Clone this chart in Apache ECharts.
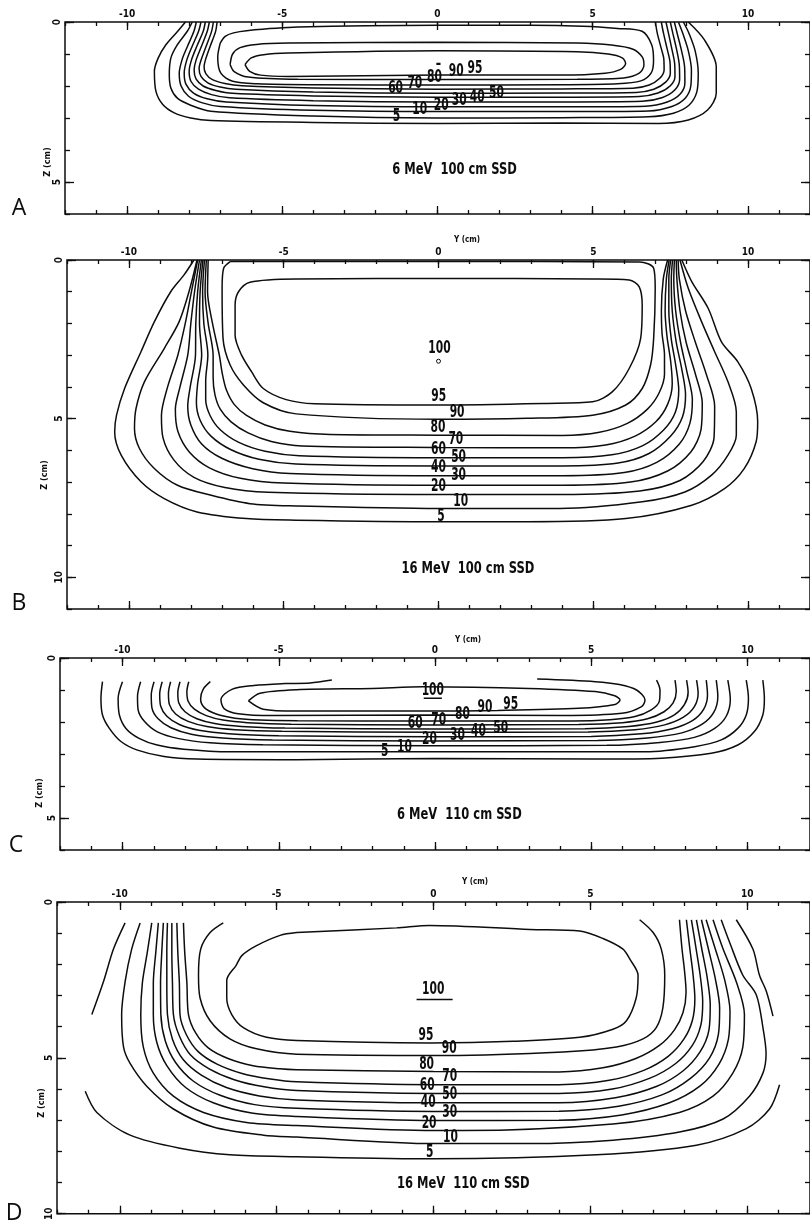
<!DOCTYPE html>
<html><head><meta charset="utf-8">
<script src="https://cdn.jsdelivr.net/npm/echarts@6/dist/echarts.min.js"></script>
<style>html,body{margin:0;padding:0;background:#fff}#c{width:810px;height:1223px}</style>
</head><body><div id="c"></div>
<script>
// ================= DATA =================
const Y_TICKS = [-10, -5, 0, 5, 10];
const Z_TICKS_A = [0, 5];
const Z_TICKS_B = [0, 5, 10];
const Z_TICKS_C = [0, 5];
const Z_TICKS_D = [0, 5, 10];

// ---- Panel A: 6 MeV 100 cm SSD (isodose contours, [Y cm, Z cm]) ----
const A_5 = [[-8.12,0],[-8.37,0.29],[-8.75,0.71],[-9.0,1.13],[-9.12,1.54],[-9.07,2.17],[-8.85,2.58],[-8.48,2.84],[-7.95,3.0],[-7.3,3.08],[-4,3.14],[0,3.17],[4,3.16],[7.12,3.17],[8.08,3.06],[8.7,2.75],[8.98,2.23],[8.98,1.4],[8.6,0.56],[8.08,0]];
const A_10 = [[-7.9,0],[-8.06,0.29],[-8.38,0.71],[-8.59,1.13],[-8.64,1.65],[-8.59,2.06],[-8.38,2.38],[-7.95,2.6],[-7.3,2.79],[-4,2.94],[0,3.0],[4,2.99],[6.8,2.96],[7.6,2.85],[8.1,2.6],[8.35,2.2],[8.4,1.6],[8.3,0.9],[8.1,0.35],[7.92,0]];
const A_20 = [[-7.77,0],[-7.85,0.3],[-8.05,0.75],[-8.22,1.15],[-8.32,1.6],[-8.26,2.0],[-8.02,2.32],[-7.6,2.52],[-7.0,2.64],[-4,2.76],[0,2.8],[4,2.8],[6.8,2.78],[7.55,2.64],[7.98,2.38],[8.16,2.0],[8.18,1.5],[8.08,0.9],[7.9,0.35],[7.76,0]];
const A_30 = [[-7.62,0],[-7.7,0.3],[-7.9,0.75],[-8.08,1.2],[-8.16,1.6],[-8.1,1.95],[-7.86,2.22],[-7.42,2.4],[-6.8,2.5],[-4,2.61],[0,2.65],[4,2.65],[6.7,2.63],[7.4,2.5],[7.82,2.25],[7.97,1.9],[7.96,1.4],[7.85,0.85],[7.72,0.35],[7.63,0]];
const A_40 = [[-7.48,0],[-7.55,0.3],[-7.75,0.75],[-7.93,1.2],[-8.0,1.55],[-7.94,1.86],[-7.7,2.1],[-7.28,2.27],[-6.7,2.37],[-4,2.46],[0,2.5],[4,2.5],[6.6,2.48],[7.25,2.36],[7.65,2.12],[7.8,1.8],[7.79,1.35],[7.7,0.85],[7.58,0.35],[7.5,0]];
const A_50 = [[-7.35,0],[-7.42,0.3],[-7.6,0.75],[-7.78,1.2],[-7.84,1.5],[-7.78,1.78],[-7.55,2.0],[-7.14,2.14],[-6.6,2.23],[-4,2.31],[0,2.35],[4,2.35],[6.5,2.33],[7.1,2.22],[7.5,1.99],[7.65,1.7],[7.64,1.3],[7.55,0.85],[7.44,0.35],[7.36,0]];
const A_60 = [[-7.22,0],[-7.28,0.3],[-7.45,0.75],[-7.62,1.2],[-7.68,1.45],[-7.62,1.7],[-7.4,1.9],[-7.0,2.03],[-6.5,2.1],[-4,2.19],[0,2.23],[4,2.22],[6.4,2.2],[6.97,2.1],[7.35,1.88],[7.5,1.6],[7.49,1.25],[7.4,0.85],[7.28,0.35],[7.21,0]];
const A_70 = [[-7.1,0],[-7.15,0.3],[-7.32,0.75],[-7.48,1.2],[-7.52,1.4],[-7.46,1.62],[-7.25,1.8],[-6.85,1.92],[-6.3,1.99],[-4,2.06],[0,2.1],[4,2.09],[6.3,2.07],[6.82,1.97],[7.16,1.76],[7.3,1.5],[7.29,1.15],[7.2,0.8],[7.08,0.35],[7.02,0]];
const A_80 = [[-7.0,0.66],[-6.84,0.45],[-6.57,0.34],[-6.15,0.27],[-4.5,0.16],[0,0.1],[3,0.1],[4.68,0.13],[5.8,0.2],[6.59,0.29],[6.9,0.71],[6.96,1.2],[6.88,1.6],[6.55,1.84],[5.8,1.93],[4,1.96],[0,1.97],[-4,1.96],[-5.8,1.93],[-6.6,1.85],[-6.98,1.6],[-7.08,1.1],[-7.0,0.66]];
const A_90 = [[-6.68,1.33],[-6.6,1.0],[-6.36,0.8],[-5.83,0.7],[-4.8,0.66],[0,0.63],[4.5,0.66],[5.6,0.72],[6.3,0.85],[6.6,1.1],[6.65,1.35],[6.5,1.6],[6.0,1.75],[4.5,1.79],[0,1.8],[-4.5,1.79],[-6.1,1.72],[-6.55,1.55],[-6.68,1.33]];
const A_95 = [[-6.2,1.33],[-6.0,1.12],[-5.6,1.02],[-4.8,0.97],[0,0.9],[4.5,0.93],[5.5,1.0],[5.95,1.12],[6.06,1.3],[5.9,1.48],[5.4,1.6],[4.0,1.66],[0,1.66],[-4.8,1.7],[-5.7,1.66],[-6.05,1.54],[-6.2,1.33]];
const A_LABELS = [[-1.35,2.07,'60'],[-0.73,1.92,'70'],[-0.1,1.75,'80'],[0.6,1.56,'90'],[1.21,1.47,'95'],[0.03,1.34,'–'],[-1.32,2.94,'5'],[-0.57,2.75,'10'],[0.12,2.6,'20'],[0.7,2.44,'30'],[1.28,2.35,'40'],[1.9,2.23,'50']];
const A_TITLE = [[0.55,4.63,'6 MeV  100 cm SSD']];

// ---- Panel B: 16 MeV 100 cm SSD ----
const B_5 = [[-7.9,0],[-8.22,0.47],[-8.65,1.0],[-9.18,1.95],[-9.61,2.89],[-10.14,4.05],[-10.4,4.89],[-10.46,5.42],[-10.25,6.15],[-9.61,6.99],[-8.86,7.52],[-7.8,7.94],[-6.2,8.15],[-4.6,8.2],[0,8.25],[2.85,8.25],[6.05,8.15],[8.18,7.73],[9.25,7.2],[9.88,6.57],[10.26,5.73],[10.31,5.1],[10.1,4.05],[9.67,3.21],[9.14,2.58],[8.71,1.52],[8.18,0.68],[7.86,0]];
const B_10 = [[-7.8,0],[-8.06,1.0],[-8.38,1.95],[-8.86,2.79],[-9.5,3.84],[-9.77,4.68],[-9.82,5.31],[-9.66,5.94],[-9.18,6.57],[-8.43,7.1],[-7.37,7.41],[-6.09,7.68],[-4.6,7.75],[0,7.83],[3.92,7.83],[6.58,7.62],[7.96,7.31],[8.82,6.78],[9.35,6.15],[9.62,5.52],[9.62,4.79],[9.35,3.84],[8.92,2.89],[8.5,1.95],[8.07,0.9],[7.8,0]];
const B_20 = [[-7.78,0],[-7.98,1.0],[-8.18,2.0],[-8.42,3.0],[-8.75,4.0],[-8.95,4.9],[-8.9,5.6],[-8.55,6.3],[-7.9,6.85],[-6.9,7.17],[-5.5,7.32],[0,7.39],[4,7.39],[6.5,7.28],[7.8,6.95],[8.55,6.35],[8.9,5.6],[8.92,4.6],[8.65,3.6],[8.3,2.6],[7.98,1.6],[7.78,0.6],[7.74,0]];
const B_30 = [[-7.72,0],[-7.88,1.0],[-8.0,2.0],[-8.1,3.0],[-8.35,4.0],[-8.5,4.7],[-8.42,5.4],[-8.05,6.05],[-7.4,6.55],[-6.4,6.88],[-5.0,7.03],[0,7.1],[4,7.1],[6.2,7.0],[7.4,6.65],[8.15,6.05],[8.48,5.35],[8.52,4.5],[8.3,3.6],[8.0,2.6],[7.8,1.6],[7.7,0.6],[7.68,0]];
const B_40 = [[-7.66,0],[-7.78,1.0],[-7.84,2.0],[-7.85,3.0],[-8.02,4.0],[-8.1,4.6],[-8.0,5.2],[-7.65,5.8],[-7.0,6.25],[-6.0,6.58],[-4.8,6.73],[0,6.8],[4,6.8],[6.0,6.7],[7.05,6.38],[7.78,5.8],[8.12,5.15],[8.2,4.4],[8.02,3.5],[7.82,2.6],[7.66,1.6],[7.6,0.6],[7.62,0]];
const B_50 = [[-7.61,0],[-7.7,1.0],[-7.72,2.0],[-7.65,3.0],[-7.78,3.9],[-7.82,4.5],[-7.7,5.05],[-7.35,5.55],[-6.7,5.98],[-5.8,6.28],[-4.6,6.43],[0,6.49],[4,6.49],[5.8,6.4],[6.8,6.1],[7.5,5.55],[7.88,4.95],[7.98,4.25],[7.85,3.4],[7.68,2.6],[7.55,1.6],[7.52,0.6],[7.56,0]];
const B_60 = [[-7.56,0],[-7.62,1.0],[-7.58,2.0],[-7.45,3.0],[-7.52,3.8],[-7.52,4.4],[-7.38,4.9],[-7.05,5.35],[-6.45,5.75],[-5.6,6.03],[-4.5,6.17],[0,6.23],[4,6.23],[5.6,6.14],[6.6,5.85],[7.28,5.35],[7.65,4.8],[7.76,4.1],[7.66,3.3],[7.52,2.5],[7.44,1.6],[7.44,0.6],[7.5,0]];
const B_70 = [[-7.5,0],[-7.54,1.0],[-7.44,2.0],[-7.28,3.0],[-7.28,3.7],[-7.22,4.25],[-7.05,4.7],[-6.7,5.1],[-6.15,5.45],[-5.4,5.72],[-4.4,5.86],[0,5.91],[4,5.92],[5.4,5.83],[6.35,5.55],[7.02,5.1],[7.4,4.55],[7.55,3.9],[7.5,3.2],[7.38,2.4],[7.32,1.6],[7.36,0.6],[7.45,0]];
const B_80 = [[-7.44,0],[-7.46,1.0],[-7.3,2.0],[-7.08,3.0],[-6.98,3.6],[-6.85,4.1],[-6.6,4.55],[-6.2,4.9],[-5.6,5.2],[-4.8,5.4],[-3.5,5.5],[0,5.52],[4,5.53],[5.2,5.43],[6.1,5.15],[6.75,4.7],[7.12,4.2],[7.3,3.6],[7.3,3.0],[7.22,2.3],[7.2,1.6],[7.26,0.6],[7.4,0]];
const B_90 = [[-6.73,0.05],[-6.94,0.26],[-6.99,0.89],[-6.96,2.47],[-6.73,3.31],[-6.3,3.94],[-5.66,4.5],[-4.6,4.85],[0,5.02],[2.85,4.99],[4.98,4.89],[6.05,4.57],[6.58,4.05],[6.85,3.31],[6.95,2.47],[7.0,0.9],[6.95,0.26],[6.5,0.06],[0,0.05],[-6.73,0.05]];
const B_95 = [[-4.6,0.6],[-6.09,0.7],[-6.46,1.0],[-6.57,1.42],[-6.57,2.37],[-6.36,3.0],[-6.04,3.52],[-5.66,4.05],[-4.92,4.4],[-4.0,4.53],[0,4.57],[3.5,4.52],[4.98,4.47],[5.62,4.15],[6.16,3.42],[6.53,2.47],[6.58,1.42],[6.48,0.84],[6.16,0.63],[4.98,0.6],[0,0.58],[-4.6,0.6]];
const B_LABELS = [[0.03,2.79,'100'],[0.01,4.31,'95'],[0.6,4.8,'90'],[-0.02,5.29,'80'],[0.56,5.65,'70'],[0,5.99,'60'],[0.65,6.24,'50'],[0,6.55,'40'],[0.65,6.78,'30'],[0,7.15,'20'],[0.72,7.62,'10'],[0.08,8.1,'5']];
const B_PEAK = [[0.0,3.19]];
const B_TITLE = [[0.95,9.73,'16 MeV  100 cm SSD']];

// ---- Panel C: 6 MeV 110 cm SSD ----
const C_5 = [[-10.64,0.74],[-10.69,1.26],[-10.64,1.78],[-10.42,2.2],[-10.05,2.61],[-9.52,2.88],[-8.67,3.08],[-7.61,3.16],[-4.43,3.18],[0,3.14],[5.13,3.16],[7.25,3.13],[8.84,2.98],[9.69,2.72],[10.22,2.3],[10.49,1.78],[10.54,1.26],[10.49,0.69]];
const C_10 = [[-10.0,0.74],[-10.14,1.26],[-10.1,1.78],[-9.89,2.2],[-9.47,2.51],[-8.89,2.72],[-8.04,2.85],[-6.55,2.93],[0,2.93],[6.72,2.93],[8.31,2.77],[9.16,2.56],[9.69,2.2],[9.96,1.78],[10.03,1.26],[9.96,0.69]];
const C_20 = [[-9.42,0.74],[-9.52,1.2],[-9.5,1.62],[-9.3,1.98],[-8.9,2.3],[-8.2,2.52],[-7.2,2.65],[-5.5,2.71],[0,2.74],[5.5,2.73],[7.2,2.64],[8.3,2.48],[8.95,2.2],[9.32,1.82],[9.45,1.3],[9.37,0.69]];
const C_30 = [[-8.99,0.74],[-9.08,1.15],[-9.06,1.55],[-8.86,1.9],[-8.45,2.18],[-7.8,2.38],[-6.8,2.5],[-5.2,2.56],[0,2.59],[5.2,2.58],[6.8,2.5],[7.9,2.34],[8.55,2.07],[8.92,1.7],[9.05,1.2],[9.0,0.69]];
const C_40 = [[-8.73,0.74],[-8.81,1.12],[-8.78,1.5],[-8.58,1.82],[-8.18,2.08],[-7.55,2.26],[-6.6,2.37],[-5.0,2.43],[0,2.46],[5.0,2.45],[6.6,2.37],[7.6,2.21],[8.25,1.95],[8.6,1.6],[8.72,1.15],[8.68,0.69]];
const C_50 = [[-8.46,0.74],[-8.53,1.1],[-8.5,1.45],[-8.3,1.75],[-7.9,1.98],[-7.3,2.14],[-6.4,2.24],[-4.9,2.29],[0,2.32],[4.9,2.31],[6.4,2.24],[7.35,2.09],[7.95,1.85],[8.3,1.52],[8.42,1.1],[8.37,0.69]];
const C_60 = [[-8.16,0.74],[-8.23,1.08],[-8.2,1.4],[-8.0,1.68],[-7.62,1.9],[-7.05,2.05],[-6.2,2.14],[-4.8,2.19],[0,2.22],[4.8,2.21],[6.2,2.14],[7.1,2.0],[7.66,1.78],[7.98,1.46],[8.1,1.08],[8.05,0.69]];
const C_70 = [[-7.88,0.74],[-7.94,1.05],[-7.9,1.35],[-7.7,1.6],[-7.32,1.8],[-6.78,1.94],[-6.0,2.02],[-4.6,2.07],[0,2.09],[4.6,2.08],[6.0,2.02],[6.8,1.9],[7.33,1.68],[7.62,1.4],[7.72,1.05],[7.68,0.69]];
const C_80 = [[-7.19,0.74],[-7.42,0.98],[-7.5,1.28],[-7.38,1.55],[-7.0,1.75],[-6.4,1.88],[-5.6,1.94],[-4.4,1.96],[0,1.97],[4.4,1.97],[5.6,1.93],[6.4,1.83],[6.92,1.62],[7.18,1.35],[7.2,1.0],[7.09,0.69]];
const C_90 = [[-3.3,0.69],[-4.0,0.78],[-4.8,0.8],[-5.8,0.86],[-6.5,0.98],[-6.85,1.3],[-6.75,1.58],[-6.3,1.74],[-5.2,1.8],[0,1.78],[4.07,1.8],[5.98,1.73],[6.61,1.52],[6.72,1.31],[6.45,1.0],[5.9,0.83],[5.13,0.74],[3.27,0.66]];
const C_95 = [[-5.97,1.34],[-5.6,1.1],[-4.43,0.99],[-2,0.95],[-0.39,0.9],[3.0,0.95],[5.13,1.05],[5.75,1.18],[5.92,1.31],[5.76,1.45],[4.6,1.57],[2,1.64],[-0.18,1.66],[-4.43,1.66],[-5.5,1.6],[-5.97,1.34]];
const C_LABELS = [[-0.07,1.03,'100'],[2.42,1.45,'95'],[1.6,1.55,'90'],[0.88,1.76,'80'],[0.12,1.97,'70'],[-0.63,2.04,'60'],[2.1,2.2,'50'],[1.39,2.3,'40'],[0.72,2.41,'30'],[-0.18,2.56,'20'],[-0.98,2.8,'10'],[-1.61,2.93,'5']];
const C_UNDERLINE = [[-0.36,1.26],[0.22,1.26]];
const C_TITLE = [[0.78,4.9,'6 MeV  110 cm SSD']];

// ---- Panel D: 16 MeV 110 cm SSD ----
const D_5_LEFT = [[-9.83,0.67],[-10.2,1.51],[-10.52,2.56],[-10.89,3.61]];
const D_5_LOW = [[-11.1,6.07],[-10.73,6.75],[-9.67,7.48],[-8.08,7.9],[-6.49,8.11],[-4.36,8.17],[0,8.24],[5.19,8.11],[8.38,7.8],[9.97,7.27],[10.71,6.64],[11.03,5.86]];
const D_5_RIGHT = [[9.65,0.57],[10.18,1.51],[10.39,2.35],[10.61,2.87],[10.82,3.66]];
const D_10 = [[-9.35,0.67],[-9.62,1.51],[-9.83,2.56],[-9.94,3.61],[-9.88,4.65],[-9.67,5.18],[-9.14,5.91],[-8.29,6.64],[-7.02,7.22],[-5.42,7.48],[-4.36,7.54],[0,7.75],[3.07,7.75],[5.72,7.64],[7.84,7.38],[9.23,6.96],[10.07,6.23],[10.5,5.49],[10.6,4.86],[10.5,4.03],[10.29,2.98],[9.86,2.35],[9.44,1.3],[9.17,0.57]];
const D_20 = [[-8.98,0.67],[-9.12,1.6],[-9.28,2.6],[-9.33,3.61],[-9.25,4.65],[-8.93,5.49],[-8.29,6.23],[-7.33,6.75],[-5.96,7.07],[-4.36,7.17],[0,7.33],[0.95,7.33],[5.72,7.12],[7.84,6.75],[8.91,6.23],[9.54,5.49],[9.86,4.65],[9.91,3.61],[9.65,2.56],[9.23,1.51],[8.91,0.57]];
const D_30 = [[-8.77,0.67],[-8.85,1.6],[-8.93,2.6],[-8.93,3.61],[-8.82,4.5],[-8.5,5.25],[-7.9,5.95],[-7.0,6.45],[-5.8,6.77],[-4.36,6.88],[0,7.01],[4,7.0],[6.0,6.83],[7.5,6.45],[8.5,5.9],[9.1,5.2],[9.4,4.4],[9.45,3.5],[9.28,2.5],[8.98,1.5],[8.69,0.57]];
const D_40 = [[-8.61,0.67],[-8.66,1.6],[-8.7,2.6],[-8.69,3.61],[-8.55,4.45],[-8.22,5.15],[-7.65,5.75],[-6.8,6.2],[-5.7,6.5],[-4.36,6.62],[0,6.72],[4,6.71],[5.9,6.55],[7.3,6.18],[8.2,5.65],[8.8,5.0],[9.08,4.25],[9.12,3.4],[8.98,2.45],[8.76,1.5],[8.54,0.57]];
const D_50 = [[-8.48,0.67],[-8.5,1.6],[-8.5,2.6],[-8.48,3.61],[-8.32,4.4],[-7.98,5.05],[-7.4,5.55],[-6.6,5.95],[-5.55,6.22],[-4.36,6.35],[0,6.44],[4,6.44],[5.8,6.28],[7.1,5.92],[7.95,5.42],[8.5,4.8],[8.78,4.1],[8.82,3.3],[8.72,2.4],[8.55,1.5],[8.38,0.57]];
const D_60 = [[-8.34,0.67],[-8.34,1.6],[-8.32,2.6],[-8.29,3.61],[-8.1,4.3],[-7.75,4.9],[-7.15,5.35],[-6.35,5.7],[-5.4,5.93],[-4.36,6.05],[0,6.14],[4,6.14],[5.7,6.0],[6.9,5.65],[7.72,5.18],[8.25,4.6],[8.52,3.95],[8.58,3.2],[8.5,2.35],[8.37,1.5],[8.22,0.57]];
const D_70 = [[-8.18,0.67],[-8.15,1.6],[-8.1,2.6],[-8.08,3.61],[-7.88,4.25],[-7.5,4.8],[-6.9,5.2],[-6.1,5.5],[-5.2,5.68],[-4.36,5.77],[0,5.86],[4,5.86],[5.6,5.72],[6.7,5.4],[7.48,4.95],[7.98,4.4],[8.25,3.8],[8.33,3.1],[8.27,2.3],[8.17,1.5],[8.06,0.57]];
const D_80 = [[-7.97,0.67],[-7.93,1.6],[-7.86,2.6],[-7.81,3.61],[-7.58,4.2],[-7.18,4.68],[-6.55,5.02],[-5.75,5.25],[-4.9,5.35],[-4.36,5.38],[0,5.44],[4,5.45],[5.4,5.32],[6.45,5.02],[7.2,4.6],[7.68,4.1],[7.95,3.55],[8.05,2.9],[8.0,2.2],[7.92,1.5],[7.84,0.57]];
const D_90 = [[-6.7,0.67],[-7.12,0.98],[-7.42,1.51],[-7.49,2.35],[-7.44,3.08],[-7.12,3.81],[-6.49,4.39],[-5.64,4.71],[-4.36,4.88],[0.41,4.92],[4.13,4.81],[5.83,4.65],[6.68,4.39],[7.1,4.03],[7.31,3.4],[7.37,2.35],[7.26,1.51],[7.0,0.98],[6.57,0.57]];
const D_95 = [[-4.36,0.98],[-4.89,1.07],[-5.64,1.4],[-6.11,1.72],[-6.29,2.03],[-6.59,2.51],[-6.59,3.08],[-6.43,3.61],[-6.06,4.03],[-5.32,4.34],[-4.36,4.44],[-0.12,4.52],[2.54,4.47],[4.66,4.34],[5.72,4.08],[6.15,3.81],[6.46,3.08],[6.52,2.35],[6.25,1.82],[6.04,1.51],[5.4,1.17],[4.66,0.93],[3.07,0.88],[-0.12,0.75],[-1.18,0.83],[-4.36,0.98]];
const D_LABELS = [[-0.01,2.82,'100'],[-0.24,4.29,'95'],[0.5,4.71,'90'],[-0.22,5.23,'80'],[0.52,5.6,'70'],[-0.2,5.89,'60'],[0.52,6.17,'50'],[-0.17,6.44,'40'],[0.52,6.75,'30'],[-0.14,7.12,'20'],[0.54,7.57,'10'],[-0.12,8.03,'5']];
const D_UNDERLINE = [[-0.54,3.13],[0.61,3.13]];
const D_TITLE = [[0.95,9.03,'16 MeV  110 cm SSD']];

const PANEL_LETTERS = ['A', 'B', 'C', 'D'];

// ================= LAYOUT / STYLE =================
const NARROW = "'DejaVu Sans Condensed',sans-serif";
const LAYOUT = [
  {left: 65, top: 22, width: 756, height: 192, zmax: 6},
  {left: 67, top: 260, width: 753, height: 349, zmax: 11},
  {left: 60, top: 658, width: 758, height: 192, zmax: 6},
  {left: 57, top: 902, width: 760, height: 318, zmax: 10}
];
const LETTER_POS = [[19, 208], [19, 603], [16, 845], [14, 1213]];
const YNAME_POS = [null, [467, 240], [468, 640], [475, 882]];
const ZNAME_POS = [[48, 162], [45, 475], [40, 793], [42, 1103]];

const PANELS = [
  {contours: [A_5, A_10, A_20, A_30, A_40, A_50, A_60, A_70, A_80, A_90, A_95], labels: A_LABELS, title: A_TITLE, zticks: Z_TICKS_A},
  {contours: [B_5, B_10, B_20, B_30, B_40, B_50, B_60, B_70, B_80, B_90, B_95], labels: B_LABELS, title: B_TITLE, zticks: Z_TICKS_B, peak: B_PEAK},
  {contours: [C_5, C_10, C_20, C_30, C_40, C_50, C_60, C_70, C_80, C_90, C_95, C_UNDERLINE], labels: C_LABELS, title: C_TITLE, zticks: Z_TICKS_C},
  {contours: [D_5_LEFT, D_5_LOW, D_5_RIGHT, D_10, D_20, D_30, D_40, D_50, D_60, D_70, D_80, D_90, D_95, D_UNDERLINE], labels: D_LABELS, title: D_TITLE, zticks: Z_TICKS_D}
];

const INK = '#0d0d0d';
const tickStyle = {color: INK, width: 1.3};
const axisFont = {fontFamily: NARROW, fontSize: 10, fontWeight: 'bold', color: INK};

// text drawn through the axes' scales (custom series), narrowed like the plotter lettering
function textSeries(xi, yi, items, fontSize, sx) {
  const texts = items.map(d => d[2]);
  return {
    type: 'custom', xAxisIndex: xi, yAxisIndex: yi, silent: true, animation: false, clip: false,
    data: items.map(d => [d[0], d[1]]),
    renderItem: (params, api) => {
      const p = api.coord([api.value(0), api.value(1)]);
      return {type: 'text', x: p[0], y: p[1], scaleX: sx, silent: true,
        style: {text: texts[params.dataIndex], fill: INK, font: 'bold ' + fontSize + 'px ' + NARROW, align: 'center', verticalAlign: 'middle'}};
    }
  };
}

const grid = [], xAxis = [], yAxis = [], series = [], graphic = [];

LAYOUT.forEach((g, i) => {
  const P = PANELS[i];
  grid.push({left: g.left, top: g.top, width: g.width, height: g.height, show: true, borderColor: INK, borderWidth: 1.5, backgroundColor: 'transparent'});
  const xb = {gridIndex: i, type: 'value', min: -12, max: 12, splitLine: {show: false}, axisLine: {show: false, onZero: false}};
  xAxis.push(Object.assign({}, xb, {position: 'top', axisTick: {show: true, inside: true, length: 8, lineStyle: tickStyle, customValues: Y_TICKS}, axisLabel: Object.assign({show: true, margin: 3, customValues: Y_TICKS}, axisFont)}));
  xAxis.push(Object.assign({}, xb, {position: 'top', interval: 1, axisTick: {show: true, inside: true, length: 4, lineStyle: tickStyle}, axisLabel: {show: false}}));
  xAxis.push(Object.assign({}, xb, {position: 'bottom', axisTick: {show: true, inside: true, length: 8, lineStyle: tickStyle, customValues: Y_TICKS}, axisLabel: {show: false}}));
  xAxis.push(Object.assign({}, xb, {position: 'bottom', interval: 1, axisTick: {show: true, inside: true, length: 4, lineStyle: tickStyle}, axisLabel: {show: false}}));
  const yb = {gridIndex: i, type: 'value', min: 0, max: g.zmax, inverse: true, splitLine: {show: false}, axisLine: {show: false, onZero: false}};
  yAxis.push(Object.assign({}, yb, {position: 'left', axisTick: {show: true, inside: true, length: 9, lineStyle: tickStyle, customValues: P.zticks}, axisLabel: Object.assign({show: true, rotate: 90, margin: 3, customValues: P.zticks}, axisFont)}));
  yAxis.push(Object.assign({}, yb, {position: 'left', interval: 1, axisTick: {show: true, inside: true, length: 5, lineStyle: tickStyle}, axisLabel: {show: false}}));
  yAxis.push(Object.assign({}, yb, {position: 'right', axisTick: {show: true, inside: true, length: 9, lineStyle: tickStyle, customValues: P.zticks}, axisLabel: {show: false}}));
  yAxis.push(Object.assign({}, yb, {position: 'right', interval: 1, axisTick: {show: true, inside: true, length: 5, lineStyle: tickStyle}, axisLabel: {show: false}}));

  const xi = 4 * i, yi = 4 * i;
  P.contours.forEach(c => {
    series.push({type: 'line', xAxisIndex: xi, yAxisIndex: yi, data: c, showSymbol: false, smooth: 0.3, silent: true,
      lineStyle: {color: INK, width: 1.5}, animation: false});
  });
  series.push(textSeries(xi, yi, P.labels, 17, 0.7));
  series.push(textSeries(xi, yi, P.title, 16, 0.8));
  if (P.peak) {
    series.push({type: 'scatter', xAxisIndex: xi, yAxisIndex: yi, symbol: 'circle', symbolSize: 4, silent: true, animation: false,
      data: P.peak, itemStyle: {color: '#fff', borderColor: INK, borderWidth: 1, opacity: 1}});
  }

  graphic.push({type: 'text', x: LETTER_POS[i][0], y: LETTER_POS[i][1], silent: true,
    style: {text: PANEL_LETTERS[i], font: "400 23px 'Open Sans', sans-serif", fill: INK, align: 'center', verticalAlign: 'middle'}});
  if (YNAME_POS[i]) {
    graphic.push({type: 'text', x: YNAME_POS[i][0], y: YNAME_POS[i][1], silent: true,
      style: {text: 'Y (cm)', font: "bold 8px " + NARROW, fill: INK, align: 'center', verticalAlign: 'middle'}});
  }
  graphic.push({type: 'text', x: ZNAME_POS[i][0], y: ZNAME_POS[i][1], rotation: Math.PI / 2, silent: true,
    style: {text: 'Z (cm)', font: "bold 9px " + NARROW, fill: INK, align: 'center', verticalAlign: 'middle'}});
});

const chart = echarts.init(document.getElementById('c'), null, {renderer: 'canvas'});
chart.setOption({backgroundColor: '#fff', animation: false, grid, xAxis, yAxis, series, graphic});
</script>
</body></html>
